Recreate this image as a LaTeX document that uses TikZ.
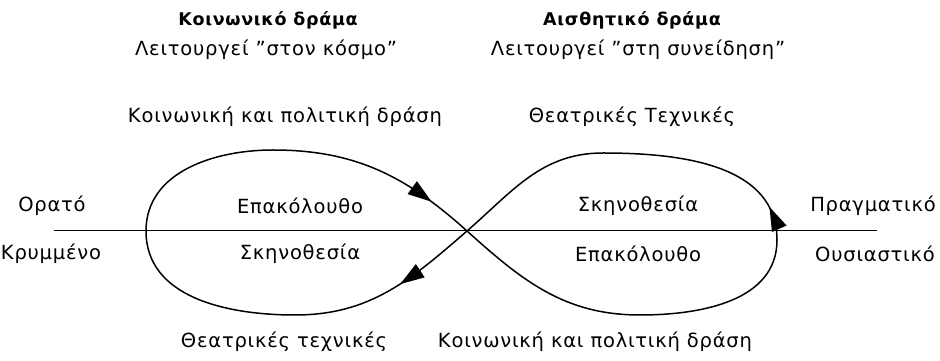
\documentclass[tikz,border=0pt]{standalone}
\usepackage{fontspec}
\setmainfont{DejaVu Sans}[LetterSpace=4]
\usetikzlibrary{decorations.markings}
\tikzset{
  lbl/.style={font=\fontsize{19.5}{22}\selectfont},
  ttl/.style={font=\fontsize{17.5}{20}\selectfont\bfseries},
  eightline/.style={line width=1.5pt},
  arr/.style={postaction={decorate},decoration={markings,
    mark=at position #1 with {\fill (4,0) -- (-20,8) -- (-20,-8) -- cycle;}}}
}

\begin{document}
\begin{tikzpicture}[x=1pt,y=1pt]
\useasboundingbox (0,0) rectangle (940,361);
% the two dramas
\node[ttl] (socttl) at (268,341) {Κοινωνικό δράμα};
\node[lbl] (socsub) at (266,311) {Λειτουργεί "στον κόσμο"};
\node[ttl] (aesttl) at (632,341) {Αισθητικό δράμα};
\node[lbl] (aessub) at (638,311) {Λειτουργεί "στη συνείδηση"};
\node[lbl] (soctop) at (285,244) {Κοινωνική και πολιτική δράση};
\node[lbl] (aestop) at (632,244) {Θεατρικές Τεχνικές};
\node[lbl] (socbot) at (284,19) {Θεατρικές τεχνικές};
\node[lbl] (aesbot) at (595,19) {Κοινωνική και πολιτική δράση};
% inside the loops
\node[lbl] (lup) at (300,155) {Επακόλουθο};
\node[lbl] (ldn) at (300,107) {Σκηνοθεσία};
\node[lbl] (rup) at (638,155) {Σκηνοθεσία};
\node[lbl] (rdn) at (638,107) {Επακόλουθο};
% the two sides of the line
\node[lbl] (vis) at (52,155) {Ορατό};
\node[lbl] (hid) at (51,107) {Κρυμμένο};
\node[lbl] (real) at (873,155) {Πραγματικό};
\node[lbl] (ess) at (875,107) {Ουσιαστικό};
% the line and the figure eight
\coordinate (hl) at (54,130);
\coordinate (hr) at (877,130);
\coordinate (C) at (467,130);
\coordinate (rb) at (640,46);
\coordinate (rr) at (777,121);
\coordinate (rt) at (603,208);
\coordinate (lb) at (295,46);
\coordinate (ll) at (146,130);
\coordinate (lt) at (273,211);
\draw[line width=1pt] (hl) -- (hr);
\draw[eightline] (C) to[out=-42,in=180] (rb) to[out=0,in=-90] (rr);
\draw[eightline,arr=0.08] (rr) to[out=90,in=0] (rt) to[out=180,in=41] (C);
\draw[eightline,arr=0.21] (C) to[out=-139,in=0] (lb) to[out=180,in=-90] (ll);
\draw[eightline,arr=0.87] (ll) to[out=90,in=180] (lt) to[out=0,in=138] (C);
\end{tikzpicture}
\end{document}
